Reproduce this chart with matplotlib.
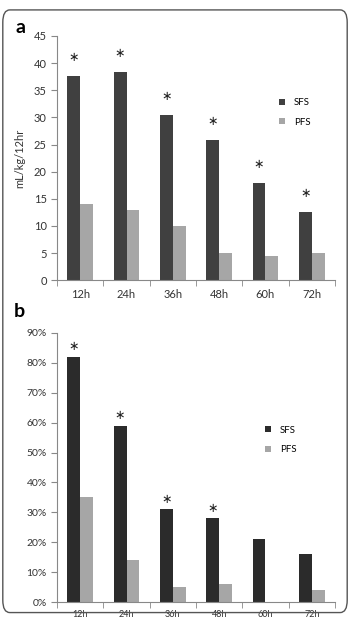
import matplotlib
matplotlib.use('Agg')
import matplotlib.pyplot as plt
import numpy as np
from matplotlib.patches import FancyBboxPatch
from matplotlib.ticker import FuncFormatter

plt.rcParams['font.family'] = ['Lato', 'DejaVu Sans']

## DATA
hours      = ['12h', '24h', '36h', '48h', '60h', '72h']
a_sfs      = [37.7, 38.4, 30.5, 25.9, 18.0, 12.6]
a_pfs      = [14.0, 13.0, 10.0, 5.0, 4.5, 5.0]
a_star     = [True, True, True, True, True, True]
b_sfs      = [82, 59, 31, 28, 21, 16]
b_pfs      = [35, 14, 5, 6, 0, 4]
b_star     = [True, True, True, True, False, False]

fig = plt.figure(figsize=(3.5, 6.2), dpi=100)

# rounded frame around the whole figure
frame = FancyBboxPatch((0.008, 0.012), 0.984, 0.972, boxstyle='round,pad=0,rounding_size=0.02',
                       transform=fig.transFigure, fill=False, edgecolor='#555555', linewidth=1.0)
fig.patches.append(frame)

x = np.arange(len(hours))
width = 0.28


def panel(ax, sfs, pfs, star, sfs_color, ymax, ystep, star_off, fmt, xfs, yfs, leg_xy):
    ax.bar(x - width/2, sfs, width, color=sfs_color, label='SFS')
    ax.bar(x + width/2, pfs, width, color='#a6a6a6', label='PFS')
    for xi, v, s in zip(x, sfs, star):
        if s:
            ax.text(xi - width/2, v + star_off, '\u2217', ha='center', va='center',
                    fontsize=9, family='DejaVu Sans', color='#222222')
    ax.set_xlim(-0.5, len(hours) - 0.5)
    ax.set_ylim(0, ymax)
    ax.set_yticks(np.arange(0, ymax + ystep/2, ystep))
    ax.yaxis.set_major_formatter(FuncFormatter(fmt))
    ax.set_xticks(x)
    ax.set_xticklabels(hours, fontsize=xfs, color='#333333')
    ax.set_xticks(np.arange(-0.5, len(hours)), minor=True)
    ax.tick_params(axis='x', which='major', length=0, pad=6)
    ax.tick_params(axis='x', which='minor', length=4, color='#888888')
    ax.tick_params(axis='y', length=4, color='#888888', labelsize=yfs, labelcolor='#333333')
    for side in ['top', 'right']:
        ax.spines[side].set_visible(False)
    for side in ['left', 'bottom']:
        ax.spines[side].set_color('#888888')
    ax.legend(loc='center left', bbox_to_anchor=leg_xy, frameon=False, fontsize=7,
              handlelength=0.6, handleheight=0.6, labelspacing=1.1, handletextpad=0.9,
              borderpad=0, borderaxespad=0)


ax1 = fig.add_axes([0.163, 0.548, 0.794, 0.394])
panel(ax1, a_sfs, a_pfs, a_star, '#404040', 45, 5, 3.3, lambda v, p: f'{int(v)}', 8, 8,
      (0.8, 0.687))
ax1.set_ylabel('mL/kg/12hr', fontsize=8, color='#333333', labelpad=6)
fig.text(0.045, 0.955, 'a', fontsize=14, fontweight='bold', va='center')

ax2 = fig.add_axes([0.163, 0.029, 0.794, 0.434])
panel(ax2, b_sfs, b_pfs, b_star, '#2b2b2b', 90, 10, 3.3, lambda v, p: f'{int(v)}%', 6.5, 7.5,
      (0.75, 0.602))
fig.text(0.04, 0.497, 'b', fontsize=14, fontweight='bold', va='center')

plt.savefig('out.png', dpi=100)
